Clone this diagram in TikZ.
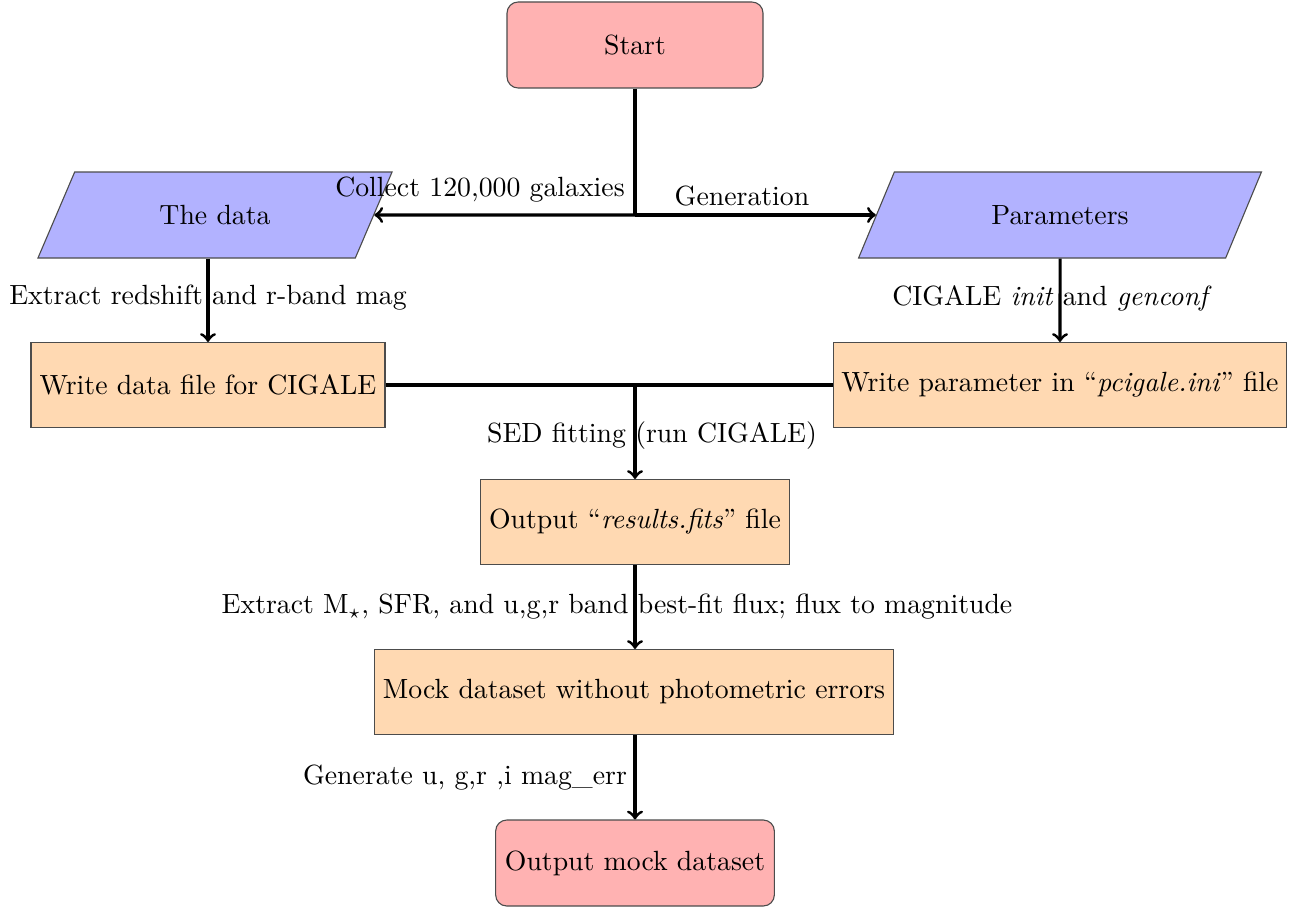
\documentclass[tikz,border=0pt]{standalone}
\usetikzlibrary{shapes.geometric}
\begin{document}
\begin{tikzpicture}[x=0.36pt,y=-0.36pt,
  box/.style={draw=black!70, fill=orange!30, rectangle, minimum height=85*0.36pt, inner sep=2pt},
  term/.style={draw=black!70, fill=red!30, rectangle, rounded corners=4pt, minimum height=86*0.36pt},
  io/.style={draw=black!70, fill=blue!30, trapezium, trapezium left angle=66, trapezium right angle=114, trapezium stretches=true, minimum width=356*0.36pt, minimum height=86*0.36pt},
  conn/.style={line width=1.1pt},
  arr/.style={conn, ->},
  lbl/.style={inner sep=0pt}]
\useasboundingbox (0,0) rectangle (1299,907);
\node[term, minimum width=256*0.36pt] (start) at (635,45) {Start};
\node[io] (data) at (215,215) {The data};
\node[io, minimum width=405*0.36pt] (param) at (1060,215) {Parameters};
\node[box, minimum width=354*0.36pt] (wdata) at (208,385) {Write data file for CIGALE};
\node[box, minimum width=453*0.36pt] (wparam) at (1060,385) {Write parameter in ``\textit{pcigale.ini}'' file};
\node[box, minimum width=309*0.36pt] (res) at (635,522) {Output ``\textit{results.fits}'' file};
\node[box, minimum width=519*0.36pt] (mock) at (634,692) {Mock dataset without photometric errors};
\node[term, minimum width=276*0.36pt] (out) at (635,863) {Output mock dataset};
\coordinate (j1) at (635,215);
\coordinate (j2) at (635,385);
\draw[conn] (start) -- (j1);
\draw[arr] (j1) -- (data);
\draw[arr] (j1) -- (param);
\draw[arr] (data.south -| wdata) -- (wdata);
\draw[arr] (param) -- (wparam);
\draw[conn] (wdata) -- (wparam);
\draw[arr] (j2) -- (res);
\draw[arr] (res) -- (res |- mock.north);
\draw[arr] (mock.south -| out) -- (out);
\node[lbl] (l1) at (480,190) {Collect 120,000 galaxies};
\node[lbl] (l2) at (742,196) {Generation};
\node[lbl] (l3) at (208,298) {Extract redshift and r-band mag};
\node[lbl] (l4) at (1052,298) {CIGALE \textit{init} and \textit{genconf}};
\node[lbl] (l5) at (652,436) {SED fitting (run CIGALE)};
\node[lbl] (l6) at (617,607) {Extract M$_\star$, SFR, and u,g,r band best-fit flux; flux to magnitude};
\node[lbl] (l7) at (465,778) {Generate u, g,r ,i mag\_err};
\end{tikzpicture}
\end{document}
